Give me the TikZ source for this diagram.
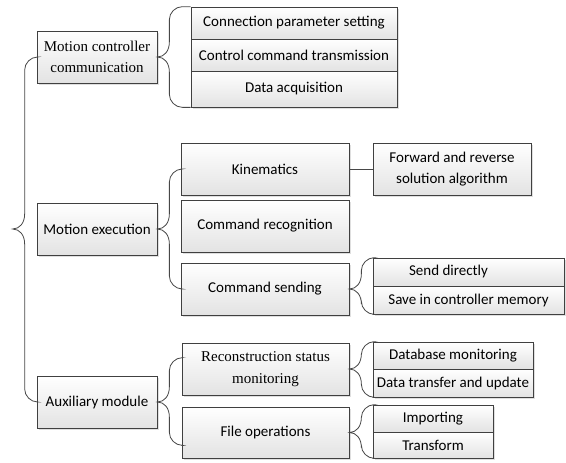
\documentclass[tikz,border=0pt]{standalone}
\usepackage{fontspec}
\setmainfont{Carlito}
\newfontfamily\serifface{Liberation Serif}
\usetikzlibrary{shadows,calc}

\tikzset{
  box/.style={draw=black!75, line width=0.7pt, top color=white, bottom color=black!11,
    drop shadow={shadow xshift=2pt, shadow yshift=-2pt, opacity=0.25},
    inner sep=0pt, align=center, text=black,
    font=\fontsize{15}{21.5}\selectfont},
  serif/.style={font=\serifface\fontsize{15}{21.5}\selectfont},
  link/.style={draw=black!72, line width=0.8pt},
}

% curly bracket: tip at #1, upper end at #2, lower end at #3
\newcommand\curlylink[3]{%
  \draw[link] let \p1=(#1), \p2=(#2), \p3=(#3) in
    (\p2) -- (\x1+25pt,\y2) .. controls (\x1+18pt,\y2) and (\x1+12pt,\y2-6pt) .. (\x1+12pt,\y2-13pt)
    -- (\x1+12pt,\y1+15pt) .. controls (\x1+12pt,\y1+6pt) and (\x1+7pt,\y1) .. (\p1)
    .. controls (\x1+7pt,\y1) and (\x1+12pt,\y1-6pt) .. (\x1+12pt,\y1-15pt)
    -- (\x1+12pt,\y3+13pt) .. controls (\x1+12pt,\y3+6pt) and (\x1+18pt,\y3) .. (\x1+25pt,\y3) -- (\p3);
}

\begin{document}
\begin{tikzpicture}[x=1pt, y=-1pt]
\useasboundingbox (0,0) rectangle (566,463);

% first level
\node[box, serif, minimum width=120pt, minimum height=52pt] (mcc) at (97,57) {Motion controller\\communication};
\node[box, minimum width=120pt, minimum height=52pt] (me) at (97,229) {Motion execution};
\node[box, minimum width=120pt, minimum height=52pt] (aux) at (97,402) {Auxiliary module};

% controller communication tasks
\node[box, minimum width=206pt, minimum height=32pt] (l1a) at (294,23) {Connection parameter setting};
\node[box, minimum width=206pt, minimum height=32pt] (l1b) at (294,55) {Control command transmission};
\node[box, minimum width=206pt, minimum height=36pt] (l1c) at (294,89) {Data acquisition};

% motion execution
\node[box, minimum width=168pt, minimum height=52pt] (kin) at (265,169) {Kinematics};
\node[box, minimum width=168pt, minimum height=52pt] (cr) at (265,226) {Command recognition};
\node[box, minimum width=168pt, minimum height=52pt] (cs) at (265,289) {Command sending};
\node[box, minimum width=158pt, minimum height=52pt] (fwd) at (452,169) {Forward and reverse\\solution algorithm};
\node[box, minimum width=191pt, minimum height=28pt] (sd1) at (468.5,272) {Send directly\hspace*{40pt}};
\node[box, minimum width=191pt, minimum height=28pt] (sd2) at (468.5,300) {Save in controller memory};

% auxiliary module
\node[box, serif, minimum width=167pt, minimum height=52pt] (rsm) at (265.5,369) {Reconstruction status\\monitoring};
\node[box, minimum width=167pt, minimum height=51pt] (fo) at (265.5,432.5) {File operations};
\node[box, minimum width=160pt, minimum height=27pt] (db1) at (453,355.5) {Database monitoring};
\node[box, minimum width=160pt, minimum height=28pt] (db2) at (453,383) {Data transfer and update};
\node[box, minimum width=120pt, minimum height=27pt] (im1) at (433,418.5) {Importing};
\node[box, minimum width=120pt, minimum height=26pt] (im2) at (433,445) {Transform};

% bracket end points
\coordinate (bigtip) at ($(me.west)+(-24,0)$);
\coordinate (auxtop) at ($(rsm.north west)+(0,15)$);
\coordinate (auxbot) at ($(fo.south west)+(0,-13)$);

% connectors
\curlylink{bigtip}{mcc.west}{aux.west}
\curlylink{mcc.east}{l1a.north west}{l1c.south west}
\curlylink{me.east}{kin.west}{cs.west}
\curlylink{cs.east}{sd1.north west}{sd2.south west}
\curlylink{aux.east}{auxtop}{auxbot}
\curlylink{rsm.east}{db1.north west}{db2.south west}
\curlylink{fo.east}{im1.north west}{im2.south west}
\draw[link] (kin) -- (fwd);
\end{tikzpicture}
\end{document}
